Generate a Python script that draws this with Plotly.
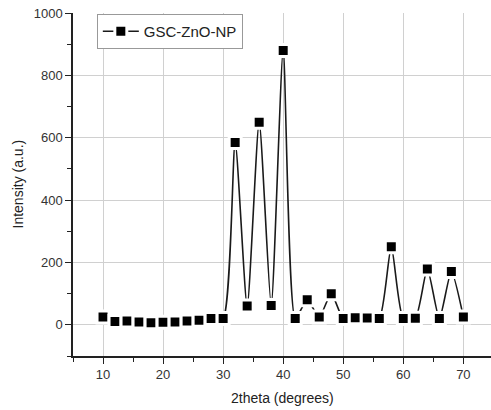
import plotly.graph_objects as go

two_theta = [10, 12, 14, 16, 18, 20, 22, 24, 26, 28, 30, 32, 34, 36, 38, 40,
             42, 44, 46, 48, 50, 52, 54, 56, 58, 60, 62, 64, 66, 68, 70]
intensity = [25, 11, 12, 9, 7, 8, 9, 12, 15, 20, 20, 585, 60, 650, 62, 880,
             20, 80, 25, 100, 20, 23, 22, 20, 250, 20, 21, 179, 20, 171, 25]
series_name = "GSC-ZnO-NP"
x_title = "2theta (degrees)"
y_title = "Intensity (a.u.)"

fig = go.Figure()
fig.add_trace(go.Scatter(
    x=two_theta, y=intensity, name=series_name,
    mode="lines+markers",
    line=dict(shape="spline", smoothing=0.6, color="#1a1a1a", width=1.6),
    marker=dict(symbol="square", size=12, color="black",
                line=dict(color="white", width=3)),
))

font_family = "Liberation Sans, Arial, sans-serif"
fig.update_layout(
    width=491, height=410,
    margin=dict(l=73, r=0, t=13, b=54),
    plot_bgcolor="white", paper_bgcolor="white",
    font=dict(family=font_family, size=13, color="#333"),
    showlegend=True,
    legend=dict(x=0.057, y=0.997, xanchor="left", yanchor="top",
                bordercolor="#999", borderwidth=1, bgcolor="white",
                font=dict(family=font_family, size=15, color="#222"),
                itemwidth=36),
    annotations=[
        dict(text=x_title, xref="paper", yref="paper", x=0.5, y=0,
             yshift=-42, xanchor="center", yanchor="middle", showarrow=False,
             font=dict(family=font_family, size=14, color="#222")),
        dict(text=y_title, xref="paper", yref="paper", x=0, y=0.5,
             xshift=-56, xanchor="center", yanchor="middle", showarrow=False,
             textangle=-90, font=dict(family=font_family, size=14, color="#222")),
    ],
)
fig.update_xaxes(
    range=[5, 74.6], dtick=10, tick0=0, automargin=False,
    showgrid=True, gridcolor="#d0d0d0", gridwidth=1,
    showline=True, linecolor="#222", linewidth=1.5,
    ticks="outside", ticklen=6, tickwidth=1.3, tickcolor="#222",
    minor=dict(dtick=5, ticks="outside", ticklen=4, tickcolor="#222", showgrid=False),
    zeroline=False,
)
fig.update_yaxes(
    range=[-100, 1000], dtick=200, tick0=0, automargin=False,
    ticklabeloverflow="allow",
    showgrid=True, gridcolor="#d0d0d0", gridwidth=1,
    showline=True, linecolor="#222", linewidth=1.5,
    ticks="outside", ticklen=6, tickwidth=1.3, tickcolor="#222",
    minor=dict(dtick=100, tick0=0, ticks="outside", ticklen=4, tickcolor="#222", showgrid=False),
    zeroline=False,
)

fig.write_html("out.html", config={"displayModeBar": False},
               post_script="document.body.style.margin='0px';")
